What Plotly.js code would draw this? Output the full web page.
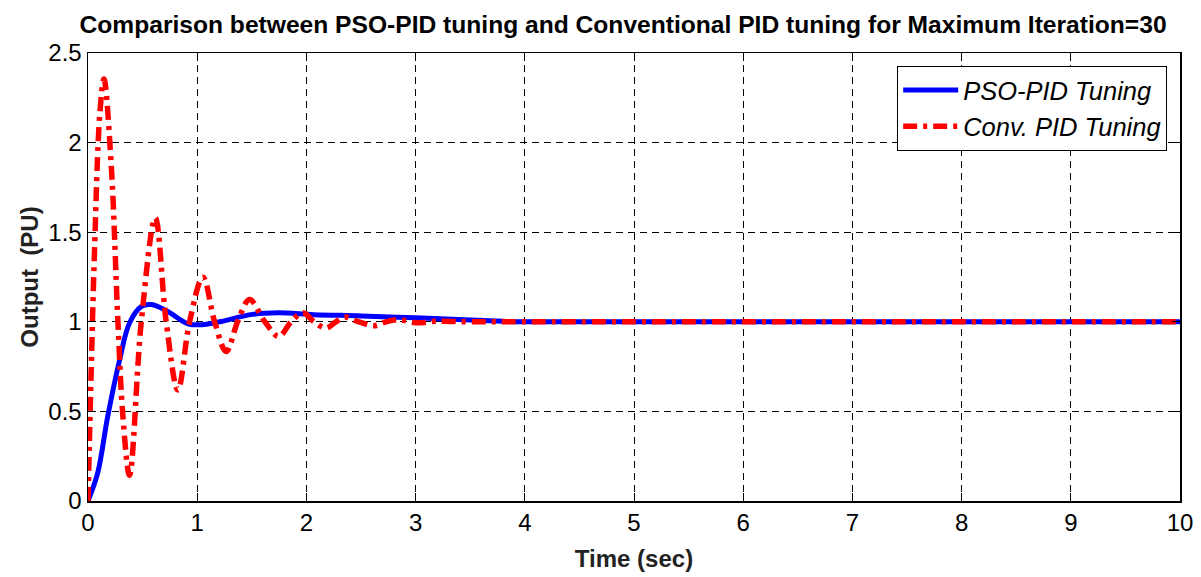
<!DOCTYPE html>
<html>
<head>
<meta charset="utf-8">
<script src="https://cdn.plot.ly/plotly-3.0.1.min.js"></script>
<style>html,body{margin:0;padding:0;background:#fff;}#chart{width:1201px;height:577px;}</style>
</head>
<body>
<div id="chart"></div>
<script>
// Data
const psoTime = [0, 0.09, 0.18, 0.29, 0.38, 0.49, 0.58, 0.73, 0.915, 1.04, 1.22, 1.49, 1.74, 2.07, 2.5, 3.0, 3.5, 3.8, 4.0, 5, 6, 7, 8, 9, 10];
const psoOutput = [0, 0.16, 0.47, 0.788, 0.993, 1.086, 1.096, 1.058, 0.989, 0.984, 1.002, 1.04, 1.05, 1.04, 1.033, 1.022, 1.01, 1.003, 1.0, 1.0, 1.0, 1.0, 1.0, 1.0, 1.0];

const convTime = [0, 0.03, 0.06, 0.107, 0.146, 0.213, 0.274, 0.32, 0.38, 0.488, 0.616, 0.716, 0.823, 0.93, 1.052, 1.16, 1.265, 1.37, 1.479, 1.62, 1.747, 1.86, 1.97, 2.07, 2.18, 2.27, 2.35, 2.48, 2.62, 2.73, 2.84, 3.0, 3.2, 3.5, 4, 5, 6, 7, 8, 9, 10];
const convOutput = [0, 0.75, 1.40, 2.15, 2.355, 1.87, 1.0, 0.47, 0.144, 1.0, 1.58, 1.0, 0.62, 1.0, 1.249, 1.0, 0.834, 1.0, 1.124, 1.0, 0.918, 1.0, 1.05, 1.0, 0.965, 1.0, 1.027, 1.0, 0.978, 1.0, 1.012, 0.995, 1.003, 1.0, 1.0, 1.0, 1.0, 1.0, 1.0, 1.0, 1.0];

const xTicks = [0, 1, 2, 3, 4, 5, 6, 7, 8, 9, 10];
const yTicks = [0, 0.5, 1, 1.5, 2, 2.5];
const yTickLabels = ['0', '0.5', '1', '1.5', '2', '2.5'];

const traces = [
  {x: psoTime, y: psoOutput, name: 'PSO-PID Tuning', mode: 'lines',
   line: {color: '#0000ff', width: 5, shape: 'spline', smoothing: 1}},
  {x: convTime, y: convOutput, name: 'Conv. PID Tuning', mode: 'lines',
   line: {color: '#ff0000', width: 5.5, dash: '14px,6px,4px,6px', shape: 'spline', smoothing: 1}}
];

const axisCommon = {
  showline: true, linecolor: '#000', linewidth: 1.5, mirror: 'ticks',
  ticks: 'inside', ticklen: 8, tickcolor: '#000', tickwidth: 1,
  showgrid: true, gridcolor: '#000', gridwidth: 1, griddash: '7px,5px',
  zeroline: false,
  tickfont: {family: 'Liberation Sans, Arial, sans-serif', size: 24, color: '#000'}
};

const layout = {
  width: 1201, height: 577,
  margin: {l: 88, r: 21, t: 53, b: 76},
  paper_bgcolor: '#fff', plot_bgcolor: '#fff',
  title: {text: 'Comparison between PSO-PID tuning and Conventional PID tuning for Maximum Iteration=30',
          font: {family: 'Liberation Sans, Arial, sans-serif', size: 24.6, color: '#000', weight: 'bold'},
          xref: 'paper', x: 0.49, xanchor: 'center', y: 0.958, yanchor: 'middle'},
  xaxis: Object.assign({}, axisCommon, {
    range: [0, 10], tickvals: xTicks, ticktext: xTicks.map(String),
    title: {text: '<b>Time (sec)</b>', font: {family: 'Liberation Sans, Arial, sans-serif', size: 24, color: '#222'}, standoff: 15}
  }),
  yaxis: Object.assign({}, axisCommon, {
    range: [0, 2.5], tickvals: yTicks, ticktext: yTickLabels,
    title: {text: '<b>Output  (PU)</b>', font: {family: 'Liberation Sans, Arial, sans-serif', size: 24, color: '#222'}, standoff: 3}
  }),
  showlegend: true,
  legend: {x: 0.741, y: 0.971, xanchor: 'left', yanchor: 'top',
           bgcolor: '#fff', bordercolor: '#000', borderwidth: 1,
           itemwidth: 55,
           font: {family: 'Liberation Sans, Arial, sans-serif', size: 25.5, color: '#000', style: 'italic'}}
};

Plotly.newPlot('chart', traces, layout, {displayModeBar: false, staticPlot: true});
</script>
</body>
</html>
